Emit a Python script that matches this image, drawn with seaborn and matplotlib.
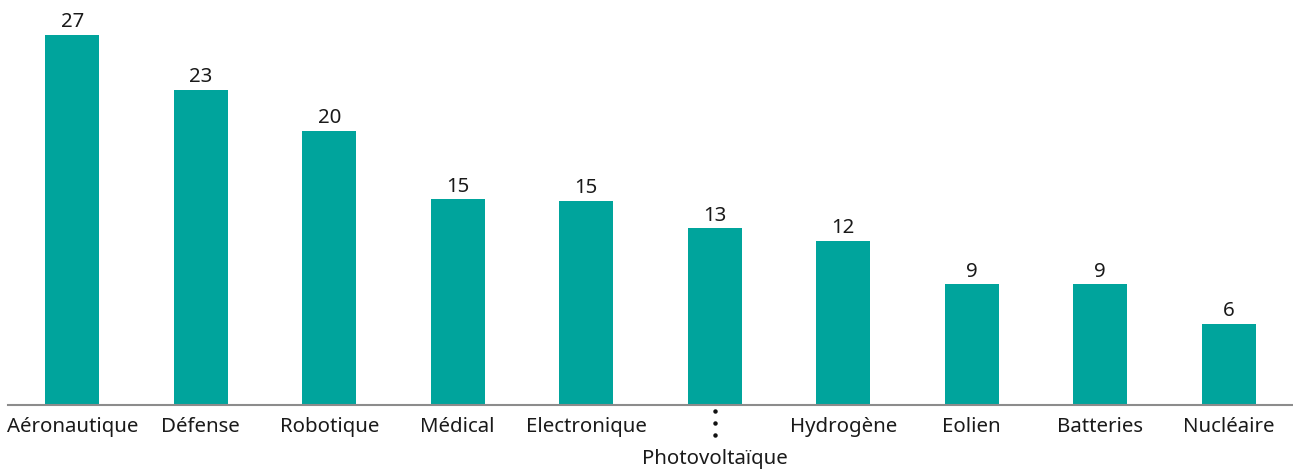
import matplotlib
matplotlib.use("Agg")
import matplotlib.pyplot as plt
import matplotlib.transforms as mtransforms
import seaborn as sns
import pandas as pd

categories = ["Aéronautique", "Défense", "Robotique", "Médical", "Electronique",
              "Photovoltaïque", "Hydrogène", "Eolien", "Batteries", "Nucléaire"]
values = [27.0, 23.0, 20.0, 15.0, 14.9, 12.9, 12.0, 8.8, 8.8, 5.9]
value_labels = ["27", "23", "20", "15", "15", "13", "12", "9", "9", "6"]
long_label = "Photovoltaïque"

sns.set_theme(style="white")
plt.rcParams["font.family"] = ["Noto Sans", "DejaVu Sans"]

df = pd.DataFrame({"cat": categories, "val": values})

W, H = 1293, 469
fig = plt.figure(figsize=(W / 100, H / 100), dpi=100)
ax = fig.add_axes([8 / W, 64 / H, 1285 / W, 405 / H])
sns.barplot(data=df, x="cat", y="val", color="#00A49C", saturation=1,
            width=0.42, linewidth=0, ax=ax)

FS = 14.7
TXT = "#1a1a1a"
for i, (v, lab) in enumerate(zip(values, value_labels)):
    ax.text(i, v + 0.2, lab, ha="center", va="bottom", fontsize=FS, color=TXT)

ax.set_xlim(-0.5, 9.5)
ax.set_ylim(0, 29.56)
ax.set_xlabel("")
ax.set_ylabel("")
ax.set_yticks([])
ax.set_xticks(range(len(categories)))
ax.set_xticklabels(["" if c == long_label else c for c in categories],
                   fontsize=FS, color=TXT)
ax.tick_params(axis="x", length=0, pad=8.5)

# long label pushed down with a dotted leader
idx = categories.index(long_label)
trans = mtransforms.blended_transform_factory(ax.transData, ax.transAxes)
ax.plot([idx] * 3, [-6 / 405, -18 / 405, -30 / 405], transform=trans,
        linestyle="none", marker="o", markersize=2.2, color="#111111",
        clip_on=False)
ax.text(idx, -59 / 405, long_label, transform=trans, ha="center",
        va="baseline", fontsize=FS, color=TXT)

for s in ["top", "right", "left"]:
    ax.spines[s].set_visible(False)
ax.spines["bottom"].set_color("#8c8c8c")
ax.spines["bottom"].set_linewidth(1.5)

fig.savefig("out.png", dpi=100)
